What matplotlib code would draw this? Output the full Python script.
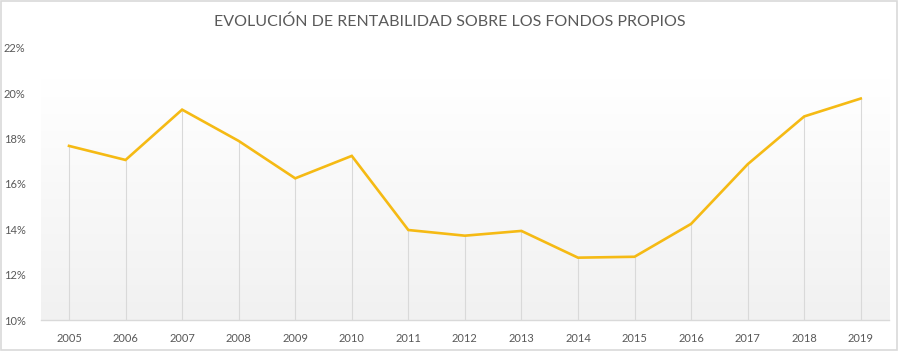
import numpy as np
import matplotlib
matplotlib.use('Agg')
import matplotlib.pyplot as plt
from matplotlib.patches import Rectangle

# Data
years = ['2005', '2006', '2007', '2008', '2009', '2010', '2011', '2012',
         '2013', '2014', '2015', '2016', '2017', '2018', '2019']
rentabilidad = [17.68, 17.06, 19.28, 17.90, 16.25, 17.24, 13.97, 13.72,
                13.93, 12.75, 12.79, 14.24, 16.87, 18.98, 19.77]
y_ticks = [10, 12, 14, 16, 18, 20, 22]

TEXT_COLOR = '#595959'
GRID_COLOR = '#d9d9d9'
LINE_COLOR = '#F5BA14'

plt.rcParams['font.family'] = ['Lato', 'DejaVu Sans']

fig = plt.figure(figsize=(8.99, 3.51), dpi=100)
ax = fig.add_axes([0.0453, 0.0883, 0.9436, 0.775])

x = np.arange(len(years))

# Gradient fill of the plot area (white on top, light grey at bottom)
grad = np.linspace(1.0, 0.0, 256).reshape(-1, 1)
ax.imshow(grad, extent=(-0.5, len(years) - 0.5, 10, 20.6), aspect='auto',
          cmap=matplotlib.colors.LinearSegmentedColormap.from_list('g', ['#f1f1f1', '#ffffff']),
          vmin=0, vmax=1, zorder=0, interpolation='bilinear')

# Drop lines
ax.vlines(x, 10, rentabilidad, colors=GRID_COLOR, linewidth=0.8, zorder=1)
ax.plot(x, rentabilidad, color=LINE_COLOR, linewidth=1.9, zorder=3,
        solid_joinstyle='miter')

ax.set_xlim(-0.5, len(years) - 0.5)
ax.set_ylim(10, 22)
ax.set_xticks(x)
ax.set_xticklabels(years)
ax.set_yticks(y_ticks)
ax.set_yticklabels([f'{t}%' for t in y_ticks])
ax.tick_params(length=0, labelsize=8, labelcolor=TEXT_COLOR)
ax.tick_params(axis='y', pad=11)
ax.tick_params(axis='x', pad=9)

for side in ['top', 'right', 'left']:
    ax.spines[side].set_visible(False)
ax.spines['bottom'].set_color(GRID_COLOR)
ax.spines['bottom'].set_linewidth(1.0)
ax.set_facecolor('white')

fig.text(0.5, 0.937, 'EVOLUCIÓN DE RENTABILIDAD SOBRE LOS FONDOS PROPIOS',
         ha='center', va='center', fontsize=11.5, color=TEXT_COLOR,
         fontweight='normal')

# Chart border
fig.patches.append(Rectangle((0.001, 0.002), 0.997, 0.995, transform=fig.transFigure,
                             fill=False, edgecolor=GRID_COLOR, linewidth=1.2))

fig.savefig('out.png', dpi=100, facecolor='white')
